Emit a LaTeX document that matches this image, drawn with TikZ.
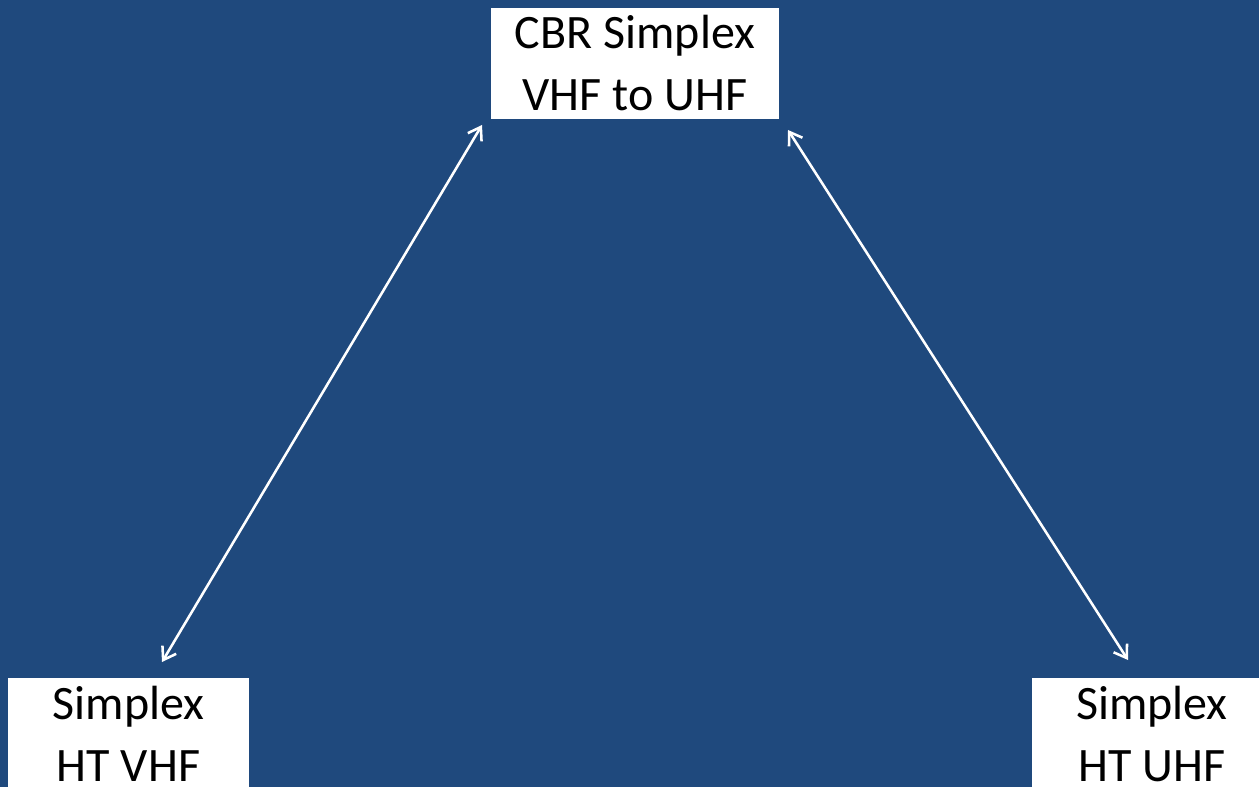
\documentclass[tikz,border=0pt]{standalone}
\usepackage{fontspec}
\setmainfont{Carlito}
\usetikzlibrary{arrows.meta}
\definecolor{bgblue}{RGB}{31,73,125}
\begin{document}
\begin{tikzpicture}[x=0.75pt,y=-0.75pt,
  box/.style={fill=white,draw=none,inner sep=0pt,align=center,
    font=\fontsize{36pt}{46.5pt}\selectfont,text=black},
  link/.style={draw=white,line width=1.9pt,
    {Straight Barb[length=9pt,width=12pt]}-{Straight Barb[length=9pt,width=12pt]}}]
\fill[bgblue] (0,0) rectangle (1259,787);
\useasboundingbox (0,0) rectangle (1259,787);
\begin{scope}
\clip (0,0) rectangle (1259,787);
\node[box,minimum width=216pt,minimum height=83.25pt] (top) at (635,63.5) {CBR Simplex\\VHF to UHF};
\node[box,minimum width=180.75pt,minimum height=84pt] (bl) at (128.5,734) {Simplex\\HT VHF};
\node[box,minimum width=180.75pt,minimum height=84pt] (br) at (1152,734) {Simplex\\HT UHF};
\end{scope}
\coordinate (l1) at (162,662);
\coordinate (l2) at (482,125);
\coordinate (r1) at (788,130);
\coordinate (r2) at (1128,660);
\draw[link] (l1) -- (l2);
\draw[link] (r1) -- (r2);
\end{tikzpicture}
\end{document}
